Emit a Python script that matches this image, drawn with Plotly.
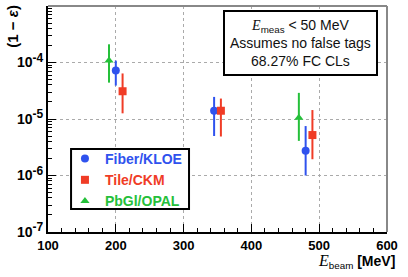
import plotly.graph_objects as go

# Data
names = ["Fiber/KLOE", "Tile/CKM", "PbGl/OPAL"]
colors = ["#2f52ee", "#f03c26", "#25c03a"]
symbols = ["circle", "square", "triangle-up"]

fiber_e = [200, 345, 480]
fiber_y = [7.2e-5, 1.4e-5, 2.75e-6]
fiber_hi = [1.08e-4, 2.46e-5, 7.5e-6]
fiber_lo = [3.9e-5, 5.0e-6, 1.0e-6]

tile_e = [210, 355, 490]
tile_y = [3.1e-5, 1.4e-5, 5.2e-6]
tile_hi = [6.4e-5, 2.3e-5, 1.44e-5]
tile_lo = [1.26e-5, 4.9e-6, 1.94e-6]

pbgl_e = [190, 470]
pbgl_y = [1.08e-4, 1.05e-5]
pbgl_hi = [2.1e-4, 2.9e-5]
pbgl_lo = [4.4e-5, 4.1e-6]

x_ticks = [100, 200, 300, 400, 500, 600]
y_ticks = [1e-7, 1e-6, 1e-5, 1e-4]
y_exps = ["-7", "-6", "-5", "-4"]
y_ticktext = [f"10<sup><span style='font-size:12px'>{e}</span></sup>" for e in y_exps]

series = [
    (fiber_e, fiber_y, fiber_hi, fiber_lo),
    (tile_e, tile_y, tile_hi, tile_lo),
    (pbgl_e, pbgl_y, pbgl_hi, pbgl_lo),
]

fig = go.Figure()
for (e, y, hi, lo), name, col, sym in zip(series, names, colors, symbols):
    fig.add_trace(go.Scatter(
        x=e, y=y, mode="markers",
        name=f"<b><span style='color:{col}'>{name}</span></b>",
        marker=dict(color=col, symbol=sym, size=8),
        error_y=dict(type="data", symmetric=False,
                     array=[h - v for h, v in zip(hi, y)],
                     arrayminus=[v - l for v, l in zip(y, lo)],
                     color=col, thickness=2, width=0),
    ))

fig.update_layout(
    width=408, height=277,
    margin=dict(l=48, r=21, t=6, b=45),
    paper_bgcolor="white", plot_bgcolor="white",
    font=dict(family="Liberation Sans, Arial", color="black"),
    showlegend=True,
    legend=dict(x=0.050, y=0.23, xanchor="left", yanchor="middle",
                borderwidth=0, bgcolor="rgba(0,0,0,0)",
                font=dict(size=14), itemwidth=30, tracegroupgap=0),
    xaxis=dict(range=[100, 600], tickvals=x_ticks,
               tickfont=dict(size=13, family="Liberation Sans, Arial", weight="bold"),
               ticks="inside", ticklen=8, tickcolor="black",
               showline=True, linecolor="black", linewidth=2,
               showgrid=True, gridcolor="#aaaaaa", griddash="dot", gridwidth=1,
               minor=dict(dtick=20, ticks="inside", ticklen=4, tickcolor="black", showgrid=False),
               zeroline=False),
    yaxis=dict(type="log", range=[-7, -3], tickvals=y_ticks, ticktext=y_ticktext,
               tickfont=dict(size=14, family="Liberation Sans, Arial", weight="bold"),
               ticks="inside", ticklen=8, tickcolor="black",
               showline=True, linecolor="black", linewidth=2,
               showgrid=True, gridcolor="#aaaaaa", griddash="dot", gridwidth=1,
               minor=dict(dtick="D1", ticks="inside", ticklen=4, tickcolor="black", showgrid=False),
               zeroline=False),
)

# grey top/right frame
fig.add_shape(type="line", xref="paper", yref="paper", x0=0, x1=1, y0=1, y1=1,
              line=dict(color="#888888", width=2))
fig.add_shape(type="line", xref="paper", yref="paper", x0=1, x1=1, y0=0, y1=1,
              line=dict(color="#888888", width=2))
# legend frame
fig.add_shape(type="rect", xref="paper", yref="paper", x0=0.068, x1=0.416, y0=0.102, y1=0.367,
              line=dict(color="black", width=2), fillcolor="white", layer="above")

fig.add_annotation(
    xref="paper", yref="paper", x=0.745, y=0.836, xanchor="center", yanchor="middle",
    text="<span style='font-family:Liberation Serif'><i>E</i></span><sub>meas</sub> < 50 MeV<br>"
         "Assumes no false tags<br>68.27% FC CLs",
    showarrow=False, font=dict(size=14, color="#111111"),
    bordercolor="black", borderwidth=2, borderpad=5, bgcolor="white", align="center",
)

fig.add_annotation(
    xref="paper", yref="paper", x=1.03, y=-0.13, xanchor="right", yanchor="middle",
    text="<span style='font-family:Liberation Serif;font-size:16px'><i>E</i></span><sub>beam</sub> <b>[MeV]</b>",
    showarrow=False, font=dict(size=14, color="black"),
)

fig.add_annotation(
    xref="paper", yref="paper", x=-0.104, y=0.912, xanchor="center", yanchor="middle",
    text="<b>(1 − <i>ε</i>)</b>", textangle=-90,
    showarrow=False, font=dict(size=15, color="black"),
)

fig.write_html("out.html", config={"displayModeBar": False},
               post_script="document.body.style.margin='0';")
